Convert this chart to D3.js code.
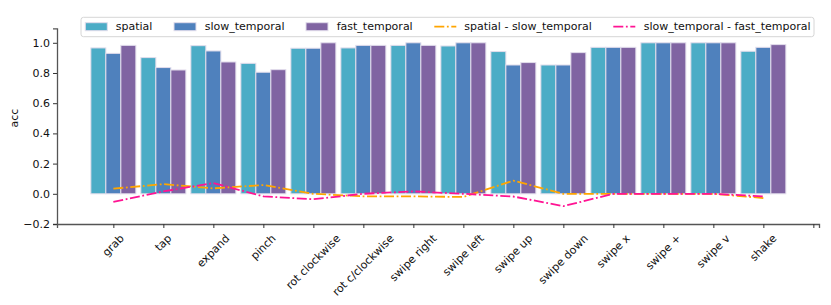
<!DOCTYPE html>
<meta charset="utf-8">
<script src="https://d3js.org/d3.v7.min.js"></script>
<style>
  body { margin: 0; background: #fff; }
  text { font-family: "DejaVu Sans", sans-serif; }
</style>
<div id="chart"></div>
<script>
// gesture classes and accuracies
var gestures = ["grab", "tap", "expand", "pinch", "rot clockwise", "rot c/clockwise",
  "swipe right", "swipe left", "swipe up", "swipe down", "swipe x", "swipe +", "swipe v", "shake"];
var spatial       = [0.966, 0.902, 0.981, 0.864, 0.964, 0.966, 0.983, 0.979, 0.942, 0.853, 0.970, 1.0, 1.0, 0.944];
var slowTemporal  = [0.930, 0.836, 0.946, 0.805, 0.964, 0.983, 1.0,   1.0,   0.853, 0.853, 0.970, 1.0, 1.0, 0.970];
var fastTemporal  = [0.983, 0.820, 0.873, 0.822, 1.0,   0.983, 0.983, 1.0,   0.869, 0.935, 0.970, 1.0, 1.0, 0.988];
var spMinusSlow   = [0.034, 0.064, 0.036, 0.058, 0.0, -0.017, -0.017, -0.021, 0.087, 0.0, 0.0, 0.0, 0.0, -0.028];
var slowMinusFast = [-0.054, 0.016, 0.071, -0.017, -0.036, 0.0, 0.016, 0.0, -0.018, -0.082, 0.0, 0.0, 0.0, -0.017];
var yTicks = [-0.2, 0.0, 0.2, 0.4, 0.6, 0.8, 1.0];
var xTickCount = 15;

var W = 831, H = 305;
var margin = { left: 57, right: 12, top: 28.3, bottom: 81 };

var svg = d3.select("#chart").append("svg")
  .attr("width", W).attr("height", H);

var x = d3.scaleLinear().domain([-1.127, 14.113]).range([margin.left, W - margin.right]);
var y = d3.scaleLinear().domain([-0.2, 1.096]).range([H - margin.bottom, margin.top]);

var barSeries = [
  { name: "spatial", values: spatial, color: "#4BACC6", off: -0.3 },
  { name: "slow_temporal", values: slowTemporal, color: "#4F81BD", off: 0 },
  { name: "fast_temporal", values: fastTemporal, color: "#8064A2", off: 0.3 }
];
var lineSeries = [
  { name: "spatial - slow_temporal", values: spMinusSlow, color: "#FFA500" },
  { name: "slow_temporal - fast_temporal", values: slowMinusFast, color: "#FF1493" }
];
var bw = 0.3;

// bars
barSeries.forEach(function (s) {
  svg.append("g").selectAll("rect")
    .data(s.values)
    .join("rect")
    .attr("x", function (d, i) { return x(i + s.off - bw / 2); })
    .attr("width", x(bw) - x(0))
    .attr("y", function (d) { return y(Math.max(d, 0)); })
    .attr("height", function (d) { return Math.abs(y(d) - y(0)); })
    .attr("fill", s.color)
    .attr("stroke", "#e2ddec")
    .attr("stroke-width", 1);
});

// difference lines
var dash = "10,2.6,1.8,2.6";
lineSeries.forEach(function (s) {
  svg.append("path")
    .datum(s.values)
    .attr("fill", "none")
    .attr("stroke", s.color)
    .attr("stroke-width", 1.8)
    .attr("stroke-dasharray", dash)
    .attr("d", d3.line()
      .x(function (d, i) { return x(i); })
      .y(function (d) { return y(d); }));
});

// y axis
var yAxis = svg.append("g")
  .attr("transform", "translate(" + margin.left + ",0)")
  .call(d3.axisLeft(y).tickValues(yTicks).tickSize(4).tickPadding(3)
    .tickFormat(function (d) { return d3.format(".1f")(d).replace("-", "\u2212"); }));
yAxis.select(".domain").attr("stroke", "#555").attr("stroke-width", 1.3);
yAxis.selectAll(".tick line").attr("stroke", "#333");
yAxis.selectAll(".tick text").attr("font-size", 11).attr("fill", "#111")
  .attr("font-family", "DejaVu Sans");

svg.append("text")
  .attr("transform", "translate(14,118) rotate(-90)")
  .attr("text-anchor", "middle")
  .attr("dominant-baseline", "central")
  .attr("font-size", 11)
  .attr("fill", "#111")
  .text("acc");

// x axis
var xAxis = svg.append("g")
  .attr("transform", "translate(0," + y(-0.2) + ")")
  .call(d3.axisBottom(x).tickValues(d3.range(xTickCount)).tickSize(4).tickFormat(""));
xAxis.select(".domain").attr("stroke", "#555").attr("stroke-width", 1.3);
xAxis.selectAll(".tick line").attr("stroke", "#333");

// rotated tick labels, bbox centered under the tick
var labTop = y(-0.2) + 8;
gestures.forEach(function (g, i) {
  var t = svg.append("text")
    .attr("font-size", 11)
    .attr("fill", "#111")
    .attr("text-anchor", "middle")
    .attr("dominant-baseline", "central")
    .text(g);
  var w = t.node().getComputedTextLength();
  var half = (w + 13) * Math.SQRT1_2 / 2;
  var cx = x(i), cy = labTop + half;
  t.attr("transform", "translate(" + cx + "," + cy + ") rotate(-45)");
});

// legend
var legend = svg.append("g");
legend.append("rect")
  .attr("x", 81).attr("y", 17.3).attr("width", 733).attr("height", 19.4)
  .attr("rx", 2.5)
  .attr("fill", "white").attr("fill-opacity", 0.8)
  .attr("stroke", "#d6d6d6");
var legItems = [
  { s: barSeries[0], x: 85.3, tx: 115.7, type: "bar" },
  { s: barSeries[1], x: 174, tx: 204.7, type: "bar" },
  { s: barSeries[2], x: 306, tx: 336.7, type: "bar" },
  { s: lineSeries[0], x: 434.3, tx: 464.3, type: "line" },
  { s: lineSeries[1], x: 613.3, tx: 643.7, type: "line" }
];
var ly = 26.7;
legItems.forEach(function (it) {
  if (it.type === "bar") {
    legend.append("rect")
      .attr("x", it.x).attr("y", ly - 4).attr("width", 22).attr("height", 8)
      .attr("fill", it.s.color).attr("stroke", "#e2ddec").attr("stroke-width", 1);
  } else {
    legend.append("line")
      .attr("x1", it.x).attr("x2", it.x + 22).attr("y1", ly).attr("y2", ly)
      .attr("stroke", it.s.color).attr("stroke-width", 1.8)
      .attr("stroke-dasharray", dash);
  }
  legend.append("text")
    .attr("x", it.tx).attr("y", ly)
    .attr("dominant-baseline", "central")
    .attr("font-size", 11)
    .attr("fill", "#111")
    .text(it.s.name);
});
</script>
